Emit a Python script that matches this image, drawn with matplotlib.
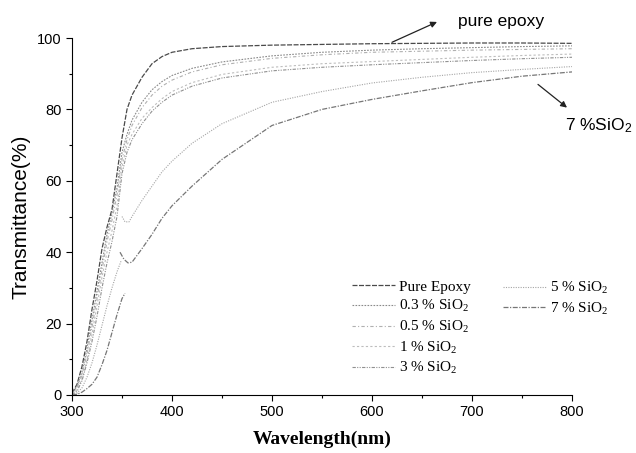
import numpy as np
import matplotlib
matplotlib.use("Agg")
import matplotlib.pyplot as plt
from matplotlib.ticker import MultipleLocator

# wavelength grid (nm) shared by the upper curves
wl = [300, 305, 310, 315, 320, 325, 330, 335, 340, 345, 350, 355, 360, 370, 380,
      390, 400, 420, 450, 500, 550, 600, 650, 700, 750, 800]

t_pure = [0.5, 3, 8, 15, 24, 32, 41, 47, 52, 62, 72, 80, 84, 89, 92.8, 94.8, 96,
          97, 97.6, 98, 98.2, 98.4, 98.5, 98.6, 98.6, 98.5]
t_03 = [0.3, 2.5, 6.5, 13, 21, 29, 37, 45, 51, 58, 68, 73, 77, 82, 85.5, 87.8,
        89.5, 91.5, 93.3, 95, 96, 96.6, 97, 97.3, 97.6, 97.8]
t_05 = [0.2, 2, 5.5, 11.5, 19, 27, 35, 43, 49, 56, 66, 71.5, 75.5, 80.5, 84, 86.5,
        88.2, 90.5, 92.5, 94.3, 95.3, 96, 96.3, 96.6, 96.8, 97]
t_1 = [0.2, 1.5, 4.5, 10, 17, 25, 33, 40, 46, 53, 64, 70, 73, 77.5, 80.5, 83, 85,
       87.5, 89.8, 91.8, 92.8, 93.4, 94, 94.6, 95.1, 95.5]
t_3 = [0.1, 1, 4, 9, 15, 22, 30, 37, 43, 50, 62, 68, 71.5, 76, 79.5, 82, 84, 86.5,
       88.8, 90.8, 91.8, 92.5, 93.1, 93.7, 94.2, 94.6]

# 5 % and 7 % have a detector-change step near 350 nm (nan splits the pieces)
wl_5 = [300, 305, 310, 315, 320, 325, 330, 335, 340, 345, 349, np.nan,
        350, 353, 357, 360, 370, 380, 390, 400, 420, 450, 500, 550, 600, 650, 700, 750, 800]
t_5 = [0, 0.5, 2, 5, 9, 14, 19.5, 25, 30, 34.5, 37.5, np.nan,
       50, 48.5, 48.5, 50, 54.5, 58.5, 62.5, 65.5, 70.5, 76, 82, 85, 87.4, 89, 90.3, 91.2, 92]
wl_7 = [300, 305, 310, 315, 320, 325, 330, 335, 340, 345, 350, 353, np.nan,
        348, 352, 356, 360, 370, 380, 390, 400, 420, 450, 500, 550, 600, 650, 700, 750, 800]
t_7 = [0, 0.2, 0.8, 1.8, 3, 5, 8.5, 12.5, 17.5, 22.5, 27, 28.5, np.nan,
       40, 38, 37, 37.2, 41, 45, 49.5, 53, 58.5, 66, 75.5, 80, 82.8, 85.2, 87.5, 89.3, 90.5]

labels = ["Pure Epoxy", "0.3 % SiO$\\mathregular{_2}$", "0.5 % SiO$\\mathregular{_2}$",
          "1 % SiO$\\mathregular{_2}$", "3 % SiO$\\mathregular{_2}$",
          "5 % SiO$\\mathregular{_2}$", "7 % SiO$\\mathregular{_2}$"]

fig = plt.figure(figsize=(6.36, 4.53), dpi=100)
ax = fig.add_axes([72/636, 58/453, 500/636, 357/453])

styles = [
    ("#4a4a4a", (0, (4, 1.2)), 0.9),
    ("#8a8a8a", (0, (1.5, 1.2)), 0.8),
    ("#b0b0b0", (0, (3, 2, 1, 2)), 0.8),
    ("#bdbdbd", (0, (2, 2)), 0.8),
    ("#909090", (0, (3, 1.2, 1, 1.2, 1, 1.2)), 0.8),
    ("#a5a5a5", (0, (1, 1.2)), 0.8),
    ("#767676", (0, (4, 1.2, 1, 1.2)), 0.9),
]
xs = [wl, wl, wl, wl, wl, wl_5, wl_7]
ys = [t_pure, t_03, t_05, t_1, t_3, t_5, t_7]
lines = []
for x, y, lab, (c, ls, lw) in zip(xs, ys, labels, styles):
    l, = ax.plot(x, y, color=c, linestyle=ls, linewidth=lw, label=lab)
    lines.append(l)

ax.set_xlim(300, 800)
ax.set_ylim(0, 100)
ax.spines["top"].set_visible(False)
ax.spines["right"].set_visible(False)
ax.xaxis.set_major_locator(MultipleLocator(100))
ax.xaxis.set_minor_locator(MultipleLocator(50))
ax.yaxis.set_major_locator(MultipleLocator(20))
ax.yaxis.set_minor_locator(MultipleLocator(10))
ax.tick_params(which="major", direction="out", length=4, width=0.8, labelsize=10.5)
ax.tick_params(which="minor", direction="out", length=2.5, width=0.8)
for t in ax.get_xticklabels() + ax.get_yticklabels():
    t.set_family("Liberation Sans")

ax.set_ylabel("Transmittance(%)", family="Liberation Sans", fontsize=15, labelpad=5)
ax.set_xlabel("Wavelength(nm)", family="Liberation Serif", fontsize=14,
              fontweight="bold", labelpad=8)

leg_kw = dict(frameon=False, loc="upper left", borderpad=0, borderaxespad=0,
              handlelength=2.8, handletextpad=0.3, labelspacing=0.3,
              prop={"family": "Liberation Serif", "size": 11})
leg1 = ax.legend(handles=lines[:5], bbox_to_anchor=(0.56, 0.322), **leg_kw)
ax.add_artist(leg1)
ax.legend(handles=lines[5:], bbox_to_anchor=(0.862, 0.322), **leg_kw)

ax.annotate("", xy=(665, 104.5), xytext=(620, 98.8), annotation_clip=False,
            arrowprops=dict(arrowstyle="-|>", color="#222222", lw=0.9,
                            mutation_scale=9, shrinkA=0, shrinkB=0))
ax.text(686, 104.5, "pure epoxy", family="Liberation Sans", fontsize=12.5,
        va="center", ha="left", clip_on=False)
ax.annotate("", xy=(795, 80.5), xytext=(766, 87), annotation_clip=False,
            arrowprops=dict(arrowstyle="-|>", color="#222222", lw=0.9,
                            mutation_scale=9, shrinkA=0, shrinkB=0))
ax.text(793, 75.5, "7 %SiO$\\mathregular{_2}$", family="Liberation Sans", fontsize=12.5,
        va="center", ha="left", clip_on=False)

plt.savefig("out.png", dpi=100)
